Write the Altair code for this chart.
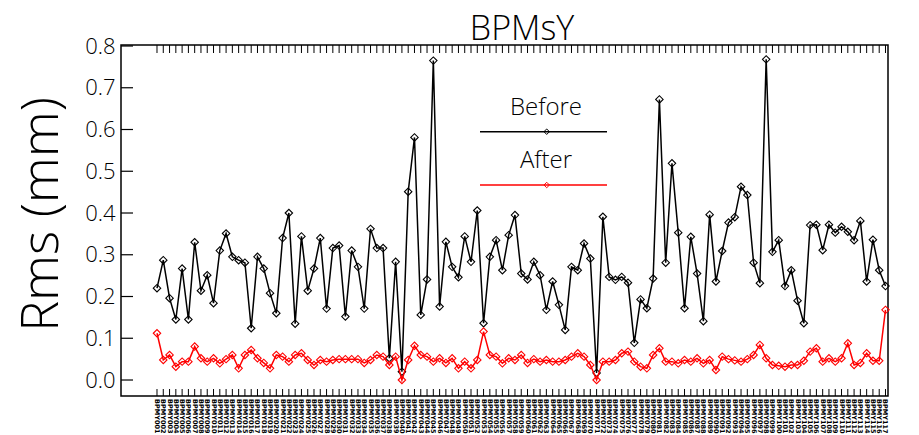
import altair as alt
import pandas as pd

title_text = "BPMsY"
y_title = "Rms (mm)"
series_names = ["Before", "After"]
series_colors = ["#000000", "#ff0000"]

before = [
    0.220, 0.287, 0.196, 0.145, 0.267, 0.145, 0.330, 0.214, 0.251, 0.184,
    0.310, 0.351, 0.295, 0.287, 0.281, 0.124, 0.295, 0.267, 0.208, 0.160,
    0.340, 0.400, 0.135, 0.344, 0.214, 0.267, 0.340, 0.171, 0.316, 0.322,
    0.152, 0.310, 0.271, 0.171, 0.362, 0.316, 0.316, 0.052, 0.283, 0.020,
    0.451, 0.581, 0.156, 0.241, 0.765, 0.176, 0.331, 0.271, 0.246, 0.344,
    0.283, 0.406, 0.136, 0.295, 0.335, 0.263, 0.347, 0.395, 0.255, 0.241,
    0.283, 0.251, 0.168, 0.236, 0.180, 0.120, 0.271, 0.263, 0.327, 0.291,
    0.017, 0.391, 0.247, 0.240, 0.247, 0.233, 0.089, 0.193, 0.172, 0.243,
    0.672, 0.281, 0.519, 0.353, 0.172, 0.343, 0.255, 0.141, 0.396, 0.236,
    0.309, 0.377, 0.390, 0.463, 0.443, 0.281, 0.232, 0.768, 0.307, 0.335,
    0.225, 0.263, 0.190, 0.136, 0.371, 0.372, 0.311, 0.372, 0.353, 0.367,
    0.355, 0.335, 0.381, 0.236, 0.336, 0.263, 0.225,
]

after = [
    0.112, 0.048, 0.060, 0.032, 0.044, 0.044, 0.080, 0.052, 0.044, 0.052,
    0.040, 0.050, 0.060, 0.028, 0.060, 0.072, 0.052, 0.041, 0.028, 0.060,
    0.056, 0.044, 0.060, 0.064, 0.048, 0.036, 0.048, 0.044, 0.048, 0.050,
    0.050, 0.050, 0.050, 0.041, 0.048, 0.060, 0.056, 0.036, 0.056, 0.000,
    0.048, 0.082, 0.060, 0.056, 0.044, 0.052, 0.041, 0.052, 0.028, 0.044,
    0.028, 0.048, 0.116, 0.060, 0.056, 0.040, 0.052, 0.048, 0.060, 0.041,
    0.050, 0.044, 0.048, 0.044, 0.044, 0.048, 0.056, 0.064, 0.056, 0.036,
    0.000, 0.044, 0.044, 0.048, 0.064, 0.068, 0.044, 0.032, 0.028, 0.060,
    0.076, 0.044, 0.044, 0.040, 0.048, 0.044, 0.052, 0.040, 0.048, 0.024,
    0.056, 0.050, 0.047, 0.044, 0.050, 0.060, 0.084, 0.052, 0.036, 0.034,
    0.032, 0.036, 0.036, 0.046, 0.068, 0.076, 0.044, 0.052, 0.044, 0.052,
    0.088, 0.036, 0.041, 0.064, 0.046, 0.046, 0.168,
]

y_ticks = [0.0, 0.1, 0.2, 0.3, 0.4, 0.5, 0.6, 0.7, 0.8]
bpm_labels = ["BPMY%03d" % (i + 1) for i in range(len(before))]

n = len(before)
idx = list(range(n))
df_before = pd.DataFrame({"idx": idx, "rms": before, "series": "Before"})
df_after = pd.DataFrame({"idx": idx, "rms": after, "series": "After"})
df_ticks = pd.DataFrame({"idx": idx, "label": bpm_labels})
df_yticks = pd.DataFrame({"rms": y_ticks})

FONT = "Open Sans"
W, H = 767, 351
xs = alt.Scale(domain=[-5.732, 116.4], nice=False, zero=False)
ys = alt.Scale(domain=[-0.0383, 0.8024], nice=False, zero=False)

y_axis = alt.Axis(
    values=y_ticks, format=".1f", ticks=False, tickSize=0, domain=False, grid=False,
    labelFontSize=22, labelFont=FONT, labelFontWeight=300, labelColor="black",
    labelPadding=6, labelOverlap=False, title=y_title, titleFontSize=52,
    titleFont=FONT, titleFontWeight=300, titleColor="black", titleX=-80,
    titleY=169, titleAngle=270, titleAlign="center", titleBaseline="middle",
)
Y = alt.Y("rms:Q", scale=ys, axis=y_axis)
X = alt.X("idx:Q", scale=xs, axis=None)


def series_layers(d, color):
    base = alt.Chart(d).encode(x=X, y=Y)
    line = base.mark_line(color=color, strokeWidth=1.5)
    pts = base.mark_point(shape="diamond", filled=False, color=color, size=55, strokeWidth=1.1, opacity=1)
    return [line, pts]


layers = []
layers += series_layers(df_before, series_colors[0])
layers += series_layers(df_after, series_colors[1])

# inward ticks
top_ticks = alt.Chart(df_ticks).mark_rule(color="black", strokeWidth=1).encode(
    x=X, y=alt.value(0), y2=alt.value(8))
bot_ticks = alt.Chart(df_ticks).mark_rule(color="black", strokeWidth=1).encode(
    x=X, y=alt.value(H), y2=alt.value(H - 7))
left_ticks = alt.Chart(df_yticks).mark_rule(color="black", strokeWidth=1.2).encode(
    y=Y, x=alt.value(0), x2=alt.value(12))
x_labels = alt.Chart(df_ticks).mark_text(
    angle=90, align="left", baseline="middle", fontSize=6.5, font="DejaVu Sans",
    fontWeight="bold", color="black"
).encode(x=X, text="label:N", y=alt.value(H + 3))
layers += [top_ticks, bot_ticks, left_ticks, x_labels]

# title
title = alt.Chart(pd.DataFrame({"t": [title_text]})).mark_text(
    fontSize=34, font=FONT, fontWeight=300, align="center", baseline="alphabetic", color="black"
).encode(text="t:N", x=alt.value(401), y=alt.value(-5))
layers.append(title)

# legend inside plot
for k, (name, col) in enumerate(zip(series_names, series_colors)):
    ldf = pd.DataFrame({"name": [name]})
    ty = 70 + 53 * k
    ly = 86.7 + 53.3 * k
    layers.append(alt.Chart(ldf).mark_text(
        fontSize=24, font=FONT, fontWeight=300, align="center", baseline="alphabetic", color="black"
    ).encode(text="name:N", x=alt.value(425), y=alt.value(ty)))
    layers.append(alt.Chart(ldf).mark_rule(color=col, strokeWidth=1.5).encode(
        x=alt.value(359), x2=alt.value(486), y=alt.value(ly)))
    layers.append(alt.Chart(ldf).mark_point(
        shape="diamond", filled=False, color=col, size=30, strokeWidth=1, opacity=1
    ).encode(x=alt.value(425.7), y=alt.value(ly)))

chart = alt.layer(*layers).properties(
    width=W, height=H,
    padding={"left": 121, "top": 45, "right": 31, "bottom": 39},
    autosize=alt.AutoSizeParams(type="none"),
    background="white",
).configure_view(stroke="black", strokeWidth=1.5)

chart.save("out.html", embed_options={"renderer": "svg", "actions": False})
